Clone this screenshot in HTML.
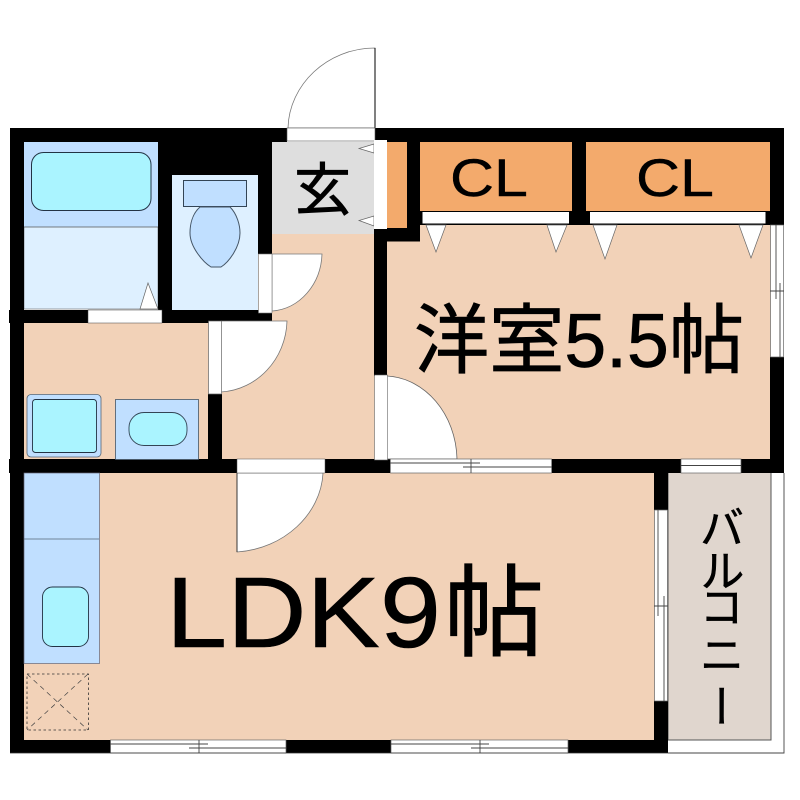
<!DOCTYPE html>
<html><head><meta charset="utf-8"><style>
html,body{margin:0;padding:0;background:#fff}
svg{display:block}
text{font-family:"Liberation Sans","Noto Sans CJK JP",sans-serif;fill:#000}
.v{writing-mode:vertical-rl;text-anchor:middle;dominant-baseline:central;font-size:45px;stroke:#000;stroke-width:.5px}
</style></head><body>
<svg width="800" height="800" viewBox="0 0 800 800" xmlns="http://www.w3.org/2000/svg">
<!-- floors -->
<rect x="222" y="234" width="154" height="226" fill="#f2d2b8"/>
<rect x="23" y="322" width="186" height="138" fill="#f2d2b8"/>
<rect x="386" y="224" width="386" height="236" fill="#f2d2b8"/>
<rect x="23" y="472" width="632" height="269" fill="#f2d2b8"/>
<rect x="668" y="472" width="103" height="268" fill="#e0d6ce" stroke="#555" stroke-width="1"/>
<rect x="24" y="142" width="134" height="167" fill="#def0ff" stroke="#666" stroke-width=".6"/>
<rect x="24" y="142" width="134" height="85" fill="#c0dfff"/>
<line x1="24" y1="227" x2="158" y2="227" stroke="#555" stroke-width=".8"/>
<rect x="31.5" y="152.500" width="119.500" height="58" rx="12" fill="#aaf4ff" stroke="#234" stroke-width="1"/>
<rect x="172" y="175" width="86" height="135" fill="#def0ff"/>
<rect x="183.500" y="180.500" width="63" height="26" fill="#c0dfff" stroke="#345" stroke-width="1"/>
<path d="M200 207C192 214 190 225 190 233C190 247 203 262 211 267L221 267C229 262 240 247 240 233C240 225 237 214 230 207Z" fill="#c0dfff" stroke="#456" stroke-width="1"/>
<rect x="272" y="142" width="103" height="92" fill="#dedede"/>
<rect x="387" y="142" width="20" height="86" fill="#f3aa6c"/>
<rect x="420" y="142" width="152" height="70" fill="#f3aa6c"/>
<rect x="586" y="142" width="184" height="70" fill="#f3aa6c"/>
<!-- walls -->
<g fill="#000">
<rect x="10" y="128" width="277" height="14"/>
<rect x="375" y="128" width="409" height="14"/>
<rect x="10" y="128" width="14" height="625"/>
<rect x="158" y="142" width="14" height="181"/>
<rect x="158" y="142" width="114" height="33"/>
<rect x="258" y="142" width="14" height="112"/>
<rect x="9" y="310" width="263" height="13"/>
<rect x="208" y="394" width="14" height="66"/>
<rect x="9" y="459" width="381" height="14"/>
<rect x="552" y="459" width="232" height="14"/>
<rect x="374" y="229" width="13" height="147"/>
<rect x="374" y="228" width="46" height="13.500"/>
<rect x="407" y="142" width="13" height="99"/>
<rect x="572" y="142" width="14" height="83"/>
<rect x="420" y="211" width="364" height="14"/>
<rect x="770" y="128" width="14" height="97"/>
<rect x="770" y="357" width="14" height="116"/>
<rect x="654" y="459" width="14" height="51"/>
<rect x="654" y="701" width="14" height="52"/>
<rect x="10" y="740" width="658" height="13"/>
</g>
<!-- CL doors -->
<rect x="422.500" y="212" width="146.500" height="11.500" fill="#fff"/>
<rect x="590" y="212" width="175.500" height="11.500" fill="#fff"/>
<g fill="#fff" stroke="#666" stroke-width=".7">
<path d="M426 225H446L436 252Z"/><path d="M547 225H567L556 252Z"/>
<path d="M593 225H617L605 259Z"/><path d="M739 225H763L751 258Z"/>
<path d="M374 144L359 148.500L374 153Z"/><path d="M374 216L359 220.500L374 226Z"/>
<path d="M140 309L148 283L158 309Z"/>
</g>
<!-- entry door -->
<path d="M375 48V128H288C289 85 327 48 375 48Z" fill="#fff" stroke="#777" stroke-width=".8"/>
<line x1="375" y1="48" x2="375" y2="128" stroke="#000" stroke-width="1"/>
<rect x="287" y="128" width="88" height="13" fill="#fff" stroke="#555" stroke-width=".6"/>
<rect x="374" y="140" width="13" height="89" fill="#fff"/>
<!-- interior doors -->
<path d="M272 254H322C321 284 300 309 272 311Z" fill="#fff" stroke="#777" stroke-width=".8"/>
<rect x="258.500" y="254" width="13.500" height="59" fill="#fff" stroke="#777" stroke-width=".6"/>
<path d="M221 321H287C286 359 257 390 221 392Z" fill="#fff" stroke="#777" stroke-width=".8"/>
<rect x="208.500" y="321" width="13" height="73" fill="#fff" stroke="#666" stroke-width=".7"/>
<path d="M387 376C425 378 456 414 457 459H387Z" fill="#fff" stroke="#666" stroke-width=".8"/>
<rect x="374.500" y="375" width="13" height="85" fill="#fff" stroke="#666" stroke-width=".6"/>
<path d="M237 473H323C321 514 284 549 237 552Z" fill="#fff" stroke="#777" stroke-width=".8"/>
<line x1="237" y1="473" x2="237" y2="552" stroke="#222" stroke-width=".8"/>
<rect x="237" y="459" width="88" height="14" fill="#fff" stroke="#555" stroke-width=".5"/>
<rect x="88" y="310" width="74" height="13" fill="#fff" stroke="#444" stroke-width=".5"/>
<!-- windows -->
<g fill="#fff" stroke="#666" stroke-width=".7">
<rect x="390.500" y="459" width="161" height="14"/>
<rect x="681" y="459" width="60" height="14"/>
<rect x="110.500" y="740" width="175.500" height="13"/>
<rect x="391" y="740" width="177" height="13"/>
<rect x="770.500" y="225" width="13" height="132"/>
<rect x="654.500" y="510" width="13" height="191"/>
</g>
<rect x="668" y="741" width="116" height="12" fill="#fff"/>
<rect x="772" y="473" width="12" height="267" fill="#fff"/>
<g stroke="#444" stroke-width=".9" fill="none">
<path d="M390 463H480M463 467H552M471 459V473"/>
<path d="M681 465.500H741"/>
<path d="M110 744H208M189 748H286M199 740V753"/>
<path d="M391 744H489M471 748H568M480 740V753"/>
<path d="M658 510V616M664 596V701M654 606H668"/>
<path d="M776 225V299M780 283V357M770 291H784"/>
<path d="M668 753H784V473"/>
</g>
<path d="M10 753H668" stroke="#333" stroke-width=".8"/>
<!-- wash -->
<rect x="27" y="394.500" width="74" height="62.500" rx="4" fill="#c0dfff" stroke="#567" stroke-width=".8"/>
<rect x="32.500" y="399.500" width="64" height="53" rx="3" fill="#aaf4ff" stroke="#234" stroke-width=".9"/>
<rect x="115.500" y="399.500" width="83" height="60" fill="#c0dfff" stroke="#456" stroke-width=".8"/>
<rect x="129" y="412.500" width="58" height="33" rx="15" fill="#aaf4ff" stroke="#345" stroke-width=".9"/>
<!-- kitchen -->
<rect x="24" y="473" width="75.500" height="190.500" fill="#c0dfff" stroke="#667" stroke-width=".7"/>
<line x1="24" y1="539" x2="99" y2="539" stroke="#567" stroke-width=".8"/>
<rect x="42.500" y="587" width="46" height="59.500" rx="10" fill="#aaf4ff" stroke="#234" stroke-width=".9"/>
<g fill="none" stroke="#333" stroke-width=".8" stroke-dasharray="2.500 2.500">
<rect x="27" y="674" width="61.500" height="56"/>
</g>
<path d="M27 674L88 730M88 674L27 730" fill="none" stroke="#444" stroke-width=".7" stroke-dasharray="5 4"/>
<!-- text -->
<text x="322.500" y="210" font-size="57" text-anchor="middle" stroke="#000" stroke-width=".8">玄</text>
<text x="450" y="196" font-size="53" textLength="78" lengthAdjust="spacingAndGlyphs" stroke="#000" stroke-width=".4">CL</text>
<text x="636" y="196" font-size="53" textLength="78" lengthAdjust="spacingAndGlyphs" stroke="#000" stroke-width=".4">CL</text>
<text x="414" y="367" font-size="76" textLength="330" lengthAdjust="spacingAndGlyphs" stroke="#000" stroke-width=".8">洋室5.5帖</text>
<text x="166" y="647" font-size="100" textLength="275" lengthAdjust="spacingAndGlyphs" stroke="#000" stroke-width=".6">LDK9</text>
<text x="444" y="648" font-size="100" stroke="#000" stroke-width="1">帖</text>
<text class="v" x="718" y="527">バ</text>
<text class="v" x="718" y="570">ル</text>
<text class="v" x="718" y="606">コ</text>
<text class="v" x="718" y="654">ニ</text>
<text class="v" x="718" y="706">ー</text>
</svg>
</body></html>
